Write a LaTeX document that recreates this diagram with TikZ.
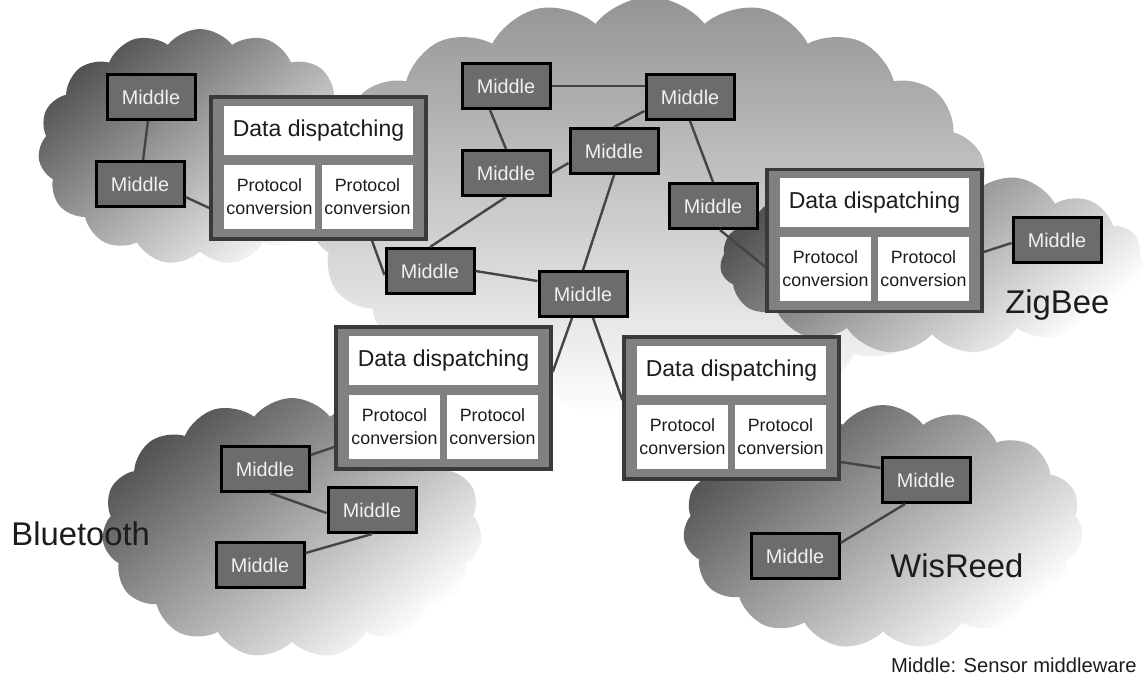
\documentclass[tikz,border=0pt]{standalone}
\usepackage{fontspec}
\setmainfont{Liberation Sans}
\usetikzlibrary{positioning,shapes.symbols}

\definecolor{midfill}{RGB}{108,108,110}
\definecolor{gatefill}{RGB}{128,128,128}
\definecolor{gateline}{RGB}{58,58,58}
\definecolor{linkgray}{RGB}{68,68,68}
\definecolor{inkdark}{RGB}{28,28,28}

\tikzset{
  netcloud/.style={cloud, cloud puffs=15, cloud puff arc=105, cloud ignores aspect,
    inner sep=0pt, shade, top color=black!68, bottom color=white, shading angle=40},
  middle/.style={draw=black, line width=1.5pt, fill=midfill, text=white!94!black,
    minimum width=44pt, minimum height=22.5pt, inner sep=0pt,
    font=\fontsize{9.9}{11}\selectfont},
  gatebox/.style={draw=gateline, line width=1.7pt, fill=gatefill,
    minimum width=107.5pt, minimum height=71pt, inner sep=0pt},
  dispbox/.style={fill=white, text=inkdark, minimum width=94.5pt, minimum height=24.5pt,
    inner sep=0pt, font=\fontsize{11.5}{13}\selectfont},
  convbox/.style={fill=white, text=inkdark, minimum width=45.5pt, minimum height=32pt,
    inner sep=0pt, align=center, font=\fontsize{8.9}{11.5}\selectfont},
  netname/.style={anchor=base west, inner sep=0pt, text=inkdark,
    font=\fontsize{16.4}{19}\selectfont},
  link/.style={draw=linkgray, line width=1.2pt}
}

\newcommand{\gateway}[2]{
  \node [gatebox] (#1) at (#2) {};
  \node [dispbox, below=5pt of #1.north] (#1-dd) {Data dispatching};
  \node [convbox, below right=4.5pt and 0pt of #1-dd.south west] (#1-pc1) {Protocol\\conversion};
  \node [convbox, below left=4.5pt and 0pt of #1-dd.south east] (#1-pc2) {Protocol\\conversion};
}

\begin{document}
\begin{tikzpicture}[x=0.5pt,y=-0.5pt]
  \useasboundingbox (0,0) rectangle (1146,680);

  % clouds
  \node [netcloud, minimum width=162pt, minimum height=118pt] (cl-left) at (200,147) {};
  \node [netcloud, top color=black!42, cloud puffs=19, minimum width=342pt, minimum height=210pt] (cl-core) at (650,207) {};
  \node [netcloud, minimum width=212pt, minimum height=92pt] (cl-zig) at (932,262) {};
  \node [netcloud, minimum width=190pt, minimum height=130pt] (cl-blue) at (292,528) {};
  \node [netcloud, minimum width=200pt, minimum height=122pt] (cl-wis) at (883,527) {};

  % left network
  \node [middle] (L1) at (151,97) {Middle};
  \node [middle] (L2) at (140,184) {Middle};
  \gateway{gw1}{318.5,168}

  % core network
  \node [middle] (A) at (506,86) {Middle};
  \node [middle] (B) at (690,97) {Middle};
  \node [middle] (C) at (506,173) {Middle};
  \node [middle] (D) at (614,151) {Middle};
  \node [middle] (E) at (713,206) {Middle};
  \node [middle] (F) at (430,271) {Middle};
  \node [middle] (G) at (583,294) {Middle};

  % ZigBee
  \gateway{zgw}{874.5,240.5}
  \node [middle] (Z1) at (1057,240) {Middle};

  % Bluetooth
  \gateway{bgw}{443.5,398}
  \node [middle] (B1) at (265,469) {Middle};
  \node [middle] (B2) at (372,510) {Middle};
  \node [middle] (B3) at (260,565) {Middle};

  % WisReed
  \gateway{wgw}{731.5,408}
  \node [middle] (W1) at (926,480) {Middle};
  \node [middle] (W2) at (795,556) {Middle};

  % links
  \draw [link] (L1) -- (L2);
  \draw [link] ([yshift=-6.5pt]L2.east) -- ([yshift=-20pt]gw1.west);
  \draw [link] ([xshift=26.75pt]gw1.south) -- ([yshift=-2pt]F.west);
  \draw [link] (A.east) -- (A.east -| B.west);
  \draw [link] ([xshift=-8pt]A.south) -- (C.north);
  \draw [link] (C.east) -- ([yshift=-6pt]D.west);
  \draw [link] (D.north) -- ([yshift=-7pt]B.west);
  \draw [link] (B.south) -- (E.north);
  \draw [link] ([xshift=3.5pt]E.south) -- ([yshift=-13.25pt]zgw.west);
  \draw [link] (C.south) -- (F.north);
  \draw [link] (F.east) -- ([yshift=6.5pt]G.west);
  \draw [link] (D.south) -- (G.north);
  \draw [link] ([xshift=-5.5pt]G.south) -- ([yshift=13pt]bgw.east);
  \draw [link] ([xshift=5pt]G.south) -- ([yshift=4pt]wgw.west);
  \draw [link] ([yshift=-5.75pt]zgw.east) -- ([yshift=-1.5pt]Z1.west);
  \draw [link] ([yshift=7pt]B1.east) -- ([yshift=-24.5pt]bgw.west);
  \draw [link] ([xshift=2.5pt]B1.south) -- ([yshift=-1.5pt]B2.west);
  \draw [link] (B2.south) -- ([yshift=6pt]B3.east);
  \draw [link] ([yshift=-27pt]wgw.east) -- ([yshift=6pt]W1.west);
  \draw [link] ([xshift=-10.5pt]W1.south) -- ([yshift=6.5pt]W2.east);

  % network names
  \node [netname] (zb) at (1005,313) {ZigBee};
  \node [netname] (bt) at (11,545) {Bluetooth};
  \node [netname] (wr) at (890,577) {WisReed};
  \node [anchor=base east, inner sep=0pt, text=inkdark, font=\fontsize{10.1}{12}\selectfont] (legend) at (1137,672) {Middle: Sensor middleware};
\end{tikzpicture}
\end{document}
